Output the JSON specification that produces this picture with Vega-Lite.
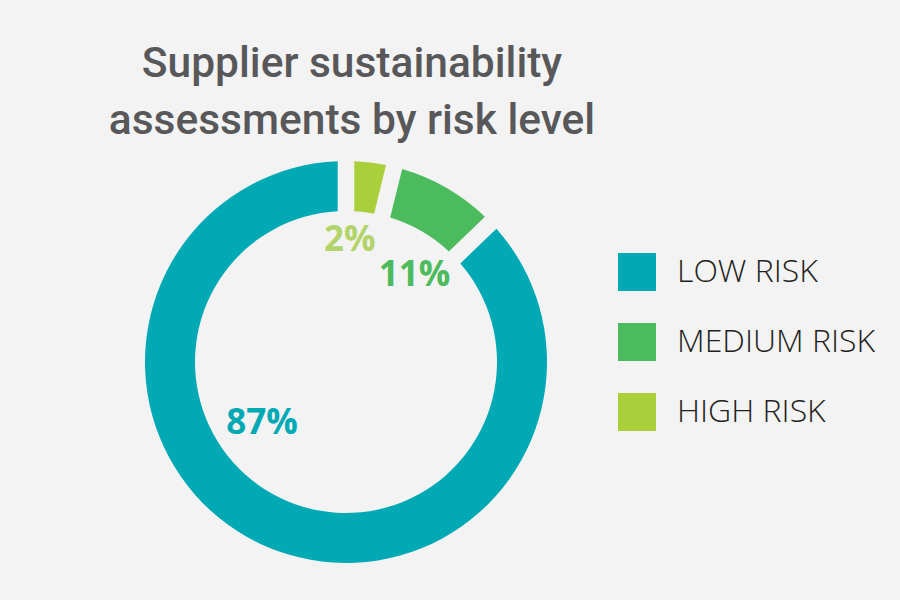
{
  "$schema": "https://vega.github.io/schema/vega-lite/v6.json",
  "width": 692,
  "height": 424,
  "autosize": {"type": "none"},
  "padding": {"left": 0, "top": 150, "right": 208, "bottom": 26},
  "background": "#f3f3f3",
  "title": {
    "text": ["Supplier sustainability", "assessments by risk level"],
    "anchor": "middle",
    "frame": "group",
    "dx": 6,
    "offset": 8,
    "font": "Roboto",
    "fontSize": 42.5,
    "fontWeight": 500,
    "lineHeight": 57,
    "color": "#58585a"
  },
  "data": {
    "values": [
      {"risk": "LOW RISK", "value": 87.2, "label": "87%"},
      {"risk": "MEDIUM RISK", "value": 8.95, "label": "11%"},
      {"risk": "HIGH RISK", "value": 3.85, "label": "2%"}
    ]
  },
  "encoding": {
    "theta": {"field": "value", "type": "quantitative", "stack": true},
    "order": {"field": "value", "type": "quantitative", "sort": "ascending"},
    "color": {
      "field": "risk",
      "type": "nominal",
      "scale": {
        "domain": ["LOW RISK", "MEDIUM RISK", "HIGH RISK"],
        "range": ["#00a9b4", "#4cbb5d", "#a9cf3b"]
      },
      "legend": {
        "title": null,
        "orient": "none",
        "legendX": 618,
        "legendY": 103,
        "padding": 0,
        "symbolType": "square",
        "symbolSize": 1444,
        "symbolStrokeWidth": 0,
        "symbolOpacity": 1,
        "labelFont": "Open Sans",
        "labelFontSize": 32,
        "labelFontWeight": 300,
        "labelColor": "#231f20",
        "labelOffset": 21,
        "rowPadding": 32,
        "labelLimit": 400
      }
    }
  },
  "layer": [
    {
      "mark": {"type": "arc", "innerRadius": 151, "outerRadius": 201, "padAngle": 0.066}
    },
    {
      "mark": {"type": "text", "radius": 115, "font": "Open Sans", "fontWeight": "bold", "fontSize": 35, "dx": -10, "dy": -8, "align": "center", "baseline": "middle", "color": "#b3d46a"},
      "encoding": {
        "text": {"condition": {"test": "datum.risk === 'HIGH RISK'", "field": "label"}, "value": ""},
        "color": {"value": "#b3d46a"}
      }
    },
    {
      "mark": {"type": "text", "radius": 115, "font": "Open Sans", "fontWeight": "bold", "fontSize": 35, "dx": 11, "dy": 13, "align": "center", "baseline": "middle"},
      "encoding": {
        "text": {"condition": {"test": "datum.risk === 'MEDIUM RISK'", "field": "label"}, "value": ""},
        "color": {"field": "risk", "type": "nominal", "legend": null}
      }
    },
    {
      "mark": {"type": "text", "radius": 115, "font": "Open Sans", "fontWeight": "bold", "fontSize": 35, "dx": -39, "dy": -45, "align": "center", "baseline": "middle"},
      "encoding": {
        "text": {"condition": {"test": "datum.risk === 'LOW RISK'", "field": "label"}, "value": ""},
        "color": {"field": "risk", "type": "nominal", "legend": null}
      }
    }
  ]
}
